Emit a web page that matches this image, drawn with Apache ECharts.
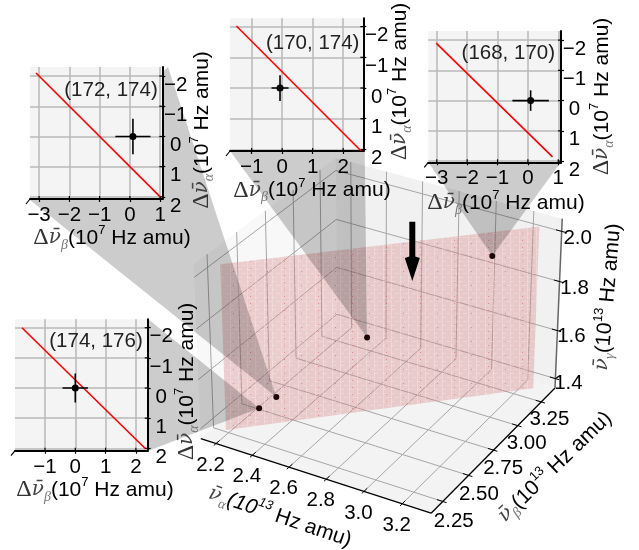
<!DOCTYPE html><html><head><meta charset="utf-8"><style>html,body{margin:0;padding:0;background:#fff}#c{width:639px;height:550px}</style>
<script src="https://cdn.jsdelivr.net/npm/echarts@6/dist/echarts.min.js"></script></head><body><div id="c"></div><script>
// ---- data ----
const alphaTicks=[2.2,2.4,2.6,2.8,3.0,3.2];
const betaTicks=[2.25,2.5,2.75,3.0,3.25];
const gammaTicks=[1.4,1.6,1.8,2.0];
const alphaRange=[2.115,3.35], betaRange=[2.14,3.4], gammaRange=[1.36,2.05];
const pointAlpha=[2.291,2.351,2.665,3.097];
const pointBeta=[2.378,2.437,2.751,3.182];
const pointGamma=[1.431,1.468,1.661,1.925];
const planeAlpha=[2.176,3.259], planeBeta=[2.263,3.344], planeGamma=[1.36,2.02];
const insetNames=['(174, 176)','(172, 174)','(170, 174)','(168, 170)'];
const insetPointX=[0,0.1,-0.07,0.09], insetPointY=[0,0,0,0];
const insetErrX=[0.42,0.58,0.28,0.6], insetErrY=[0.48,0.59,0.42,0.34];
const insetLineX=[[-1.76,2.3],[-3.1,1],[-1.5,2.58],[-3.02,0.81]];
const insetLineY=[[-2,2],[-2.1,2],[-2.02,2.04],[-1.9,1.86]];
const insetXRange=[[-1.99,2.39],[-3.3,1.07],[-1.71,2.66],[-3.28,1.09]];
const insetYRange=[[-2.28,2.08],[-2.3,2.07],[-2.27,2.05],[-2.3,2.04]];
const insetXTicks=[[-1,0,1,2],[-3,-2,-1,0,1],[-1,0,1,2],[-3,-2,-1,0,1]];
const insetYTicks=[-2,-1,0,1,2];
// ---- layout ----
const insetRect=[[15,319.3,132.7,131.4],[30,67,132.3,132],[230,18.3,133.3,132.7],[428.3,31,132.7,131.3]]; // left,top,w,h
const coneCorners=[[[148,319],[148,451]],[[30,200],[168,67]],[[230,151],[363,18]],[[428,162],[561,162]]];
const namePos=[[96,341.7],[111,90],[312.7,43.3],[508.3,53.3]];
const xNamePos=[[95,490],[112,238],[312,190.5],[506,203]];
const yNamePos=[[187,381.5],[202,130],[400,81.5],[602,96.5]];
const calib=[[0,0,0,200.7,437.7],[1,0,0,431.7,513.3],[1,1,0,555,388.3],[0,1,0,336.7,324],[0,0,1,193.3,265],[1,1,1,561.7,218.3],[0,1,1,336.7,157.7]];
// ---- projection (fit from the box corners) ----
function solve(M,v){const n=M.length;M=M.map((r,i)=>[...r,v[i]]);for(let i=0;i<n;i++){let p=i;for(let k=i;k<n;k++)if(Math.abs(M[k][i])>Math.abs(M[p][i]))p=k;[M[i],M[p]]=[M[p],M[i]];for(let k=0;k<n;k++)if(k!=i){const f=M[k][i]/M[i][i];for(let j=i;j<=n;j++)M[k][j]-=f*M[i][j];}}return M.map((r,i)=>r[n]/r[i]);}
const m=(()=>{let R=[],Y=[];calib.forEach(([u,v,w,x,y])=>{R.push([u,v,w,1,0,0,0,0,-x*u,-x*v,-x*w]);Y.push(x);R.push([0,0,0,0,u,v,w,1,-y*u,-y*v,-y*w]);Y.push(y);});
const T=R[0].map((_,i)=>R.map(r=>r[i]));return solve(T.map(a=>T.map(b=>a.reduce((s,x,i)=>s+x*b[i],0))),T.map(a=>a.reduce((s,x,i)=>s+x*Y[i],0)));})();
const P=(a,b,g)=>{const u=(a-alphaRange[0])/(alphaRange[1]-alphaRange[0]),v=(b-betaRange[0])/(betaRange[1]-betaRange[0]),w=(g-gammaRange[0])/(gammaRange[1]-gammaRange[0]);const d=m[8]*u+m[9]*v+m[10]*w+1;return [(m[0]*u+m[1]*v+m[2]*w+m[3])/d,(m[4]*u+m[5]*v+m[6]*w+m[7])/d];};
const [a0,a1]=alphaRange,[b0,b1]=betaRange,[g0,g1]=gammaRange;
// ---- text helpers ----
const SANS="'Liberation Sans',Arial,sans-serif", SERIF="'Liberation Serif',serif", MATH="'DejaVu Serif',serif";
const rich={
 d:{font:`24px ${SERIF}`,fill:'#333',lineHeight:28},
 n:{font:`italic 20px ${MATH}`,fill:'#444',lineHeight:28},
 s:{font:`italic 14px ${SERIF}`,fill:'#777',lineHeight:14,verticalAlign:'bottom'},
 t:{font:`21px ${SANS}`,fill:'#000',lineHeight:28},
 u:{font:`13px ${SANS}`,fill:'#000',lineHeight:14,verticalAlign:'top'},
 ti:{font:`italic 21px ${SANS}`,fill:'#000',lineHeight:28},
 ui:{font:`italic 13px ${SANS}`,fill:'#000',lineHeight:14,verticalAlign:'top'}
};
const txt=(text,x,y,rot)=>({type:'text',x,y,rotation:(rot||0)*Math.PI/180,silent:true,style:{text,rich,font:`20.5px ${SANS}`,fill:'#000',align:'center',verticalAlign:'middle'}});
const dLabel=(g,e)=>`{d|Δ}{n|ν̄}{s|${g}}{t|(10}{u|${e}}{t| Hz amu)}`;
// ---- plane texture ----
const tex=document.createElement('canvas');tex.width=34;tex.height=28;
(()=>{const c=tex.getContext('2d');c.fillStyle='rgba(214,122,122,0.34)';c.fillRect(0,0,34,28);
 c.fillStyle='rgba(255,255,255,0.22)';
 for(let x=0;x<34;x+=8.5){c.fillRect(Math.round(x),0,1,28);}
 for(let r=0;r<7;r++)for(let x=0;x<34;x+=8.5){c.fillRect(Math.round(x+(r%2?4:0)),r*4+1,4,1);}
 c.fillStyle='rgba(205,50,60,0.4)';
 for(let y=2;y<28;y+=7){c.fillRect(12,y,1,1);}
 for(let y=5;y<28;y+=14){c.fillRect(29,y,1,1);}
})();
// ---- drawing layers on the pixel-scale main grid ----
const poly=(api,pts,style)=>({type:'polygon',silent:true,shape:{points:pts.map(p=>api.coord(p))},style});
const seg=(api,p,q,stroke,lineWidth)=>({type:'line',silent:true,shape:{x1:api.coord(p)[0],y1:api.coord(p)[1],x2:api.coord(q)[0],y2:api.coord(q)[1]},style:{stroke,lineWidth,fill:null}});
const layer=(z,fn)=>({type:'custom',coordinateSystem:'cartesian2d',xAxisIndex:0,yAxisIndex:0,z,silent:true,clip:false,data:[0],renderItem:(p,api)=>({type:'group',children:fn(api)})});
const GRID='#a6a6a6';
const series=[];
series.push(layer(1,api=>{const c=[];
 c.push(poly(api,[P(a0,b0,g0),P(a1,b0,g0),P(a1,b1,g0),P(a0,b1,g0)],{fill:'#f3f3f3'}));
 c.push(poly(api,[P(a0,b0,g0),P(a0,b1,g0),P(a0,b1,g1),P(a0,b0,g1)],{fill:'#f8f8f8'}));
 c.push(poly(api,[P(a0,b1,g0),P(a1,b1,g0),P(a1,b1,g1),P(a0,b1,g1)],{fill:'#f1f1f1'}));
 alphaTicks.forEach(a=>{c.push(seg(api,P(a,b0,g0),P(a,b1,g0),GRID,1));c.push(seg(api,P(a,b1,g0),P(a,b1,g1),GRID,1));});
 betaTicks.forEach(b=>{c.push(seg(api,P(a1,b,g0),P(a0,b,g0),GRID,1));c.push(seg(api,P(a0,b,g0),P(a0,b,g1),GRID,1));});
 gammaTicks.forEach(g=>{c.push(seg(api,P(a1,b1,g),P(a0,b1,g),GRID,1));c.push(seg(api,P(a0,b1,g),P(a0,b0,g),GRID,1));});
 c.push(seg(api,P(a0,b0,g0),P(a1,b0,g0),'#000',1.3));
 c.push(seg(api,P(a1,b0,g0),P(a1,b1,g0),'#000',1.3));
 c.push(seg(api,P(a1,b1,g0),P(a1,b1,g1),'#666',1.5));
 alphaTicks.forEach(a=>c.push(seg(api,P(a,b0-0.02,g0),P(a,b0+0.03,g0),'#000',1)));
 betaTicks.forEach(b=>c.push(seg(api,P(a1-0.03,b,g0),P(a1+0.02,b,g0),'#000',1)));
 gammaTicks.forEach(g=>c.push(seg(api,P(a1-0.03,b1,g),P(a1+0.02,b1,g),'#000',1)));
 return c;}));
series.push(layer(2,api=>[poly(api,[P(planeAlpha[0],planeBeta[0],planeGamma[0]),P(planeAlpha[1],planeBeta[1],planeGamma[0]),P(planeAlpha[1],planeBeta[1],planeGamma[1]),P(planeAlpha[0],planeBeta[0],planeGamma[1])],{fill:{image:tex,repeat:'repeat'}})]));
// cones from each inset to its point
const coneOrder=[0,1,2,3];
series.push(layer(3,api=>coneOrder.map(i=>poly(api,[coneCorners[i][0],coneCorners[i][1],P(pointAlpha[i],pointBeta[i],pointGamma[i])],{fill:'rgba(0,0,0,0.2)'}))));
// main points
series.push({type:'scatter',xAxisIndex:0,yAxisIndex:0,z:4,silent:true,symbolSize:6,itemStyle:{color:'#1c0606',opacity:1},data:pointAlpha.map((a,i)=>P(a,pointBeta[i],pointGamma[i]))});
// arrow
series.push(layer(4,api=>[poly(api,[[409.3,221.7],[415.3,221.7],[415.3,256.5],[419.8,258],[412.3,281],[404.8,258],[409.3,256.5]],{fill:'#000'})]));
// main tick labels & titles
series.push(layer(13,api=>{const c=[];const at=(p,dx,dy)=>{const q=api.coord(p);return [q[0]+dx,q[1]+dy];};
 alphaTicks.forEach(a=>{const q=at(P(a,b0,g0),-5.5,21.5);c.push(txt(a.toFixed(1),q[0],q[1]));});
 betaTicks.forEach((b,i)=>{const q=at(P(a1,b,g0),11-i*0.7,20-i*0.7);c.push(txt(b.toFixed(2),q[0],q[1]));});
 gammaTicks.forEach((g,i)=>{const q=at(P(a1,b1,g),13+i,5+i*0.7);c.push(txt(g.toFixed(1),q[0],q[1]));});
 c.push(txt(`{n|ν̄}{s|α}{ti|(10}{ui|13}{t| Hz amu)}`,280,517,-18.8));
 c.push(txt(`{n|ν̄}{s|β}{t|(10}{u|13}{t| Hz amu)}`,555,467,44));
 c.push(txt(`{n|ν̄}{s|γ}{t|(10}{u|13}{t| Hz amu)}`,608,297,85));
 insetNames.forEach((n,i)=>{c.push({type:'text',x:namePos[i][0],y:namePos[i][1],silent:true,style:{text:n,font:`20.5px ${SANS}`,fill:'#222',align:'center',verticalAlign:'middle'}});
  c.push(txt(dLabel('β','7'),xNamePos[i][0],xNamePos[i][1]));
  c.push(txt(dLabel('α','7'),yNamePos[i][0],yNamePos[i][1],90));});
 return c;}));
// ---- axes & grids ----
const minus=v=>String(v).replace('-','−');
const grids=[{left:0,top:0,width:639,height:550,show:false,z:0}];
const xAxes=[{type:'value',gridIndex:0,min:0,max:639,show:false}];
const yAxes=[{type:'value',gridIndex:0,min:0,max:550,inverse:true,show:false}];
insetRect.forEach((r,i)=>{
 const gi=i+1;
 grids.push({left:r[0],top:r[1],width:r[2],height:r[3],show:true,backgroundColor:'#f4f4f4',borderWidth:0,z:10});
 const common={type:'value',gridIndex:gi,z:11,scale:true,
  axisLine:{show:true,onZero:false,lineStyle:{color:'#000',width:2}},
  axisTick:{show:true,length:3,lineStyle:{color:'#000',width:1.2}},
  splitLine:{show:true,lineStyle:{color:'#b8b8b8',width:1.5}},minorTick:{show:false}};
 xAxes.push({...common,position:'bottom',min:insetXRange[i][0],max:insetXRange[i][1],
  axisTick:{...common.axisTick,customValues:insetXTicks[i]},
  axisLabel:{customValues:insetXTicks[i],formatter:minus,margin:6,color:'#000',fontSize:20.5,fontFamily:SANS,showMinLabel:true,showMaxLabel:true,hideOverlap:false}});
 yAxes.push({...common,position:'right',inverse:true,min:insetYRange[i][0],max:insetYRange[i][1],
  axisTick:{...common.axisTick,customValues:insetYTicks},
  axisLabel:{customValues:insetYTicks,formatter:minus,margin:13.5,align:'center',verticalAlign:'top',lineHeight:18,color:'#000',fontSize:20.5,fontFamily:SANS,showMinLabel:true,showMaxLabel:true,hideOverlap:false}});
 const on={xAxisIndex:gi,yAxisIndex:gi};
 series.push({type:'line',...on,z:12,silent:true,symbol:'none',clip:false,lineStyle:{color:'#f00',width:1.6},data:[[insetLineX[i][0],insetLineY[i][0]],[insetLineX[i][1],insetLineY[i][1]]]});
 const x=insetPointX[i],y=insetPointY[i];
 series.push({type:'line',...on,z:12,silent:true,symbol:'none',clip:false,lineStyle:{color:'#000',width:1.6},data:[[x-insetErrX[i],y],[x+insetErrX[i],y]]});
 series.push({type:'line',...on,z:12,silent:true,symbol:'none',clip:false,lineStyle:{color:'#000',width:1.6},data:[[x,y-insetErrY[i]],[x,y+insetErrY[i]]]});
 series.push({type:'scatter',...on,z:12,silent:true,symbolSize:7,itemStyle:{color:'#000',opacity:1},data:[[x,y]]});
 // inner half of the axis ticks, plus the short corner stroke of the projected box
 series.push({type:'custom',coordinateSystem:'cartesian2d',...on,z:12,silent:true,clip:false,data:[0],renderItem:(p,api)=>{
  const ch=[];const xm=insetXRange[i][1],xn=insetXRange[i][0],yb=insetYRange[i][1];
  insetXTicks[i].forEach(v=>{const q=api.coord([v,yb]);ch.push({type:'line',shape:{x1:q[0],y1:q[1],x2:q[0],y2:q[1]-3},style:{stroke:'#000',lineWidth:1.2}});});
  insetYTicks.forEach(v=>{const q=api.coord([xm,v]);ch.push({type:'line',shape:{x1:q[0],y1:q[1],x2:q[0]-3,y2:q[1]},style:{stroke:'#000',lineWidth:1.2}});});
  const c=api.coord([xn,yb]);ch.push({type:'line',shape:{x1:c[0],y1:c[1],x2:c[0]-4,y2:c[1]+5},style:{stroke:'#000',lineWidth:1.2}});
  return {type:'group',children:ch};}});
});
const chart=echarts.init(document.getElementById('c'),null,{renderer:'canvas'});
chart.setOption({animation:false,backgroundColor:'#fff',tooltip:{show:false},legend:{show:false},grid:grids,xAxis:xAxes,yAxis:yAxes,series});
</script></body></html>
